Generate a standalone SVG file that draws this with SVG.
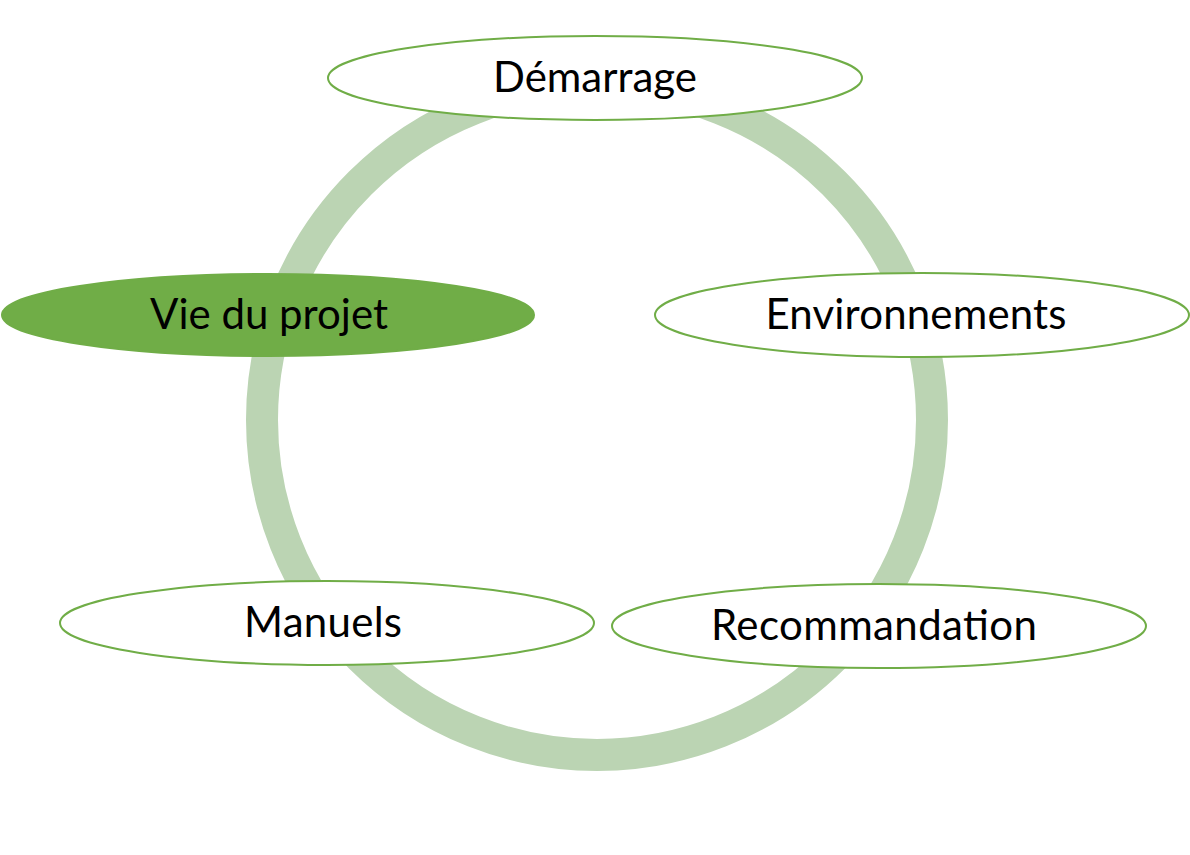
<svg xmlns="http://www.w3.org/2000/svg" width="1190" height="855" viewBox="0 0 1190 855">
<style>
.node{fill:#FFFFFF;stroke:#70AD47;stroke-width:2}
.node.active{fill:#70AD47}
.label{font-family:Lato,"Liberation Sans",sans-serif;font-size:42px;fill:#000000;text-anchor:middle}
.ring{fill:none;stroke:#BBD4B3;stroke-width:32}
</style>
<rect width="1190" height="855" fill="#FFFFFF"/>
<g id="connectors">
<circle class="ring" cx="597" cy="420" r="335"/>
</g>
<g id="node-demarrage">
<ellipse class="node" cx="595" cy="78" rx="267" ry="42"/>
<text class="label" x="595" y="92" textLength="204">Démarrage</text>
</g>
<g id="node-vie-du-projet">
<ellipse class="node active" cx="268" cy="315" rx="266" ry="41"/>
<text class="label" x="269" y="329" textLength="238">Vie du projet</text>
</g>
<g id="node-environnements">
<ellipse class="node" cx="922" cy="315" rx="267" ry="42"/>
<text class="label" x="916" y="329" textLength="301">Environnements</text>
</g>
<g id="node-manuels">
<ellipse class="node" cx="327" cy="623" rx="267" ry="42"/>
<text class="label" x="323" y="637" textLength="158">Manuels</text>
</g>
<g id="node-recommandation">
<ellipse class="node" cx="879" cy="626" rx="267" ry="42"/>
<text class="label" x="874" y="640" textLength="326">Recommandation</text>
</g>
</svg>
